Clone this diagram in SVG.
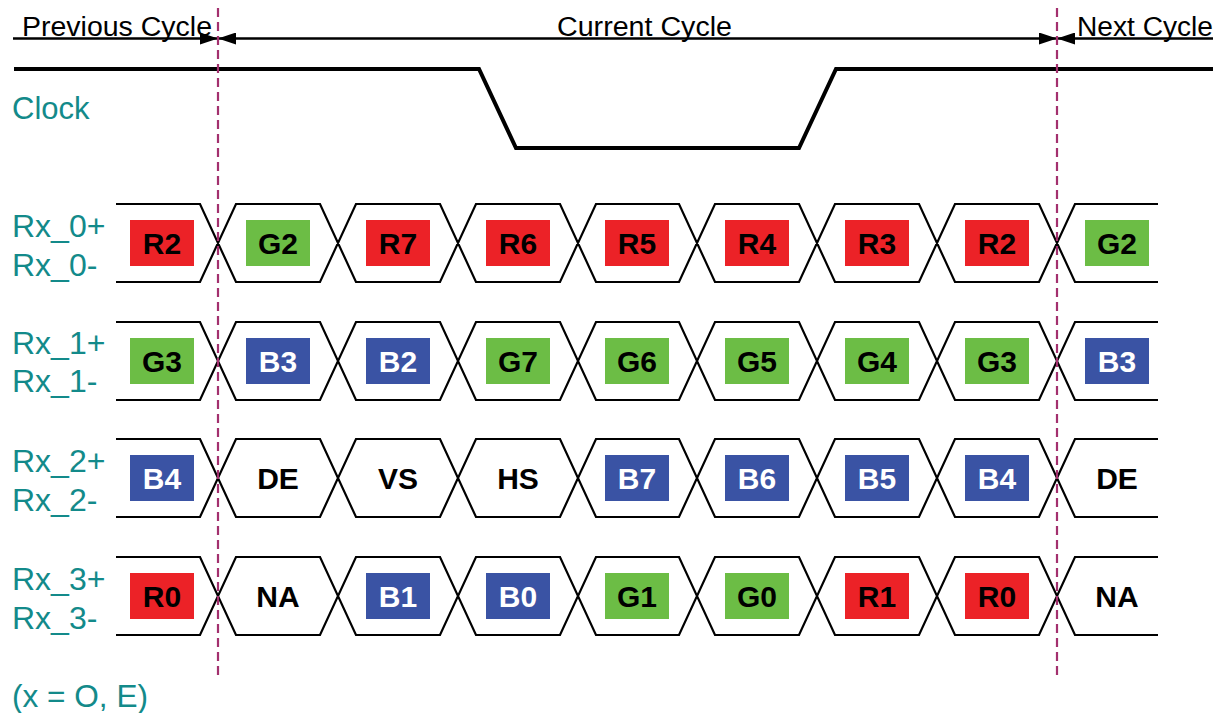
<svg xmlns="http://www.w3.org/2000/svg" width="1218" height="713" viewBox="0 0 1218 713">
<style>
.hdr{font-family:"Liberation Sans",Arial,sans-serif;font-size:27px;fill:#000}
.lbl{font-family:"Liberation Sans",Arial,sans-serif;font-size:31px;fill:#138a8a}
.rx{font-size:32px}
.bx{font-family:"Liberation Sans",Arial,sans-serif;font-size:30px;font-weight:bold;text-anchor:middle}
.k{fill:#000}.w{fill:#fff}
.r{fill:#ec2227}.g{fill:#6cbd45}.b{fill:#3a53a4}
.lane{fill:none;stroke:#000;stroke-width:2.2}
.clk{fill:none;stroke:#000;stroke-width:4}
.dash{stroke:#a3306e;stroke-width:2.2;stroke-dasharray:9 5}
</style>
<defs>
<marker id="ah" viewBox="0 0 10 10" refX="10" refY="5" markerWidth="18" markerHeight="12" markerUnits="userSpaceOnUse" orient="auto" preserveAspectRatio="none"><path d="M0,0 L10,5 L0,10 z" fill="#000"/></marker>
</defs>
<rect width="1218" height="713" fill="#fff"/>
<g id="header">
<text class="hdr" x="22" y="36" textLength="190" lengthAdjust="spacingAndGlyphs">Previous Cycle</text>
<text class="hdr" x="557" y="36" textLength="175" lengthAdjust="spacingAndGlyphs">Current Cycle</text>
<text class="hdr" x="1077" y="36" textLength="136" lengthAdjust="spacingAndGlyphs">Next Cycle</text>
</g>
<g id="connectors">
<line x1="13" y1="38.5" x2="218" y2="38.5" stroke="#000" stroke-width="2.5" marker-end="url(#ah)"/>
<line x1="640" y1="38.5" x2="218" y2="38.5" stroke="#000" stroke-width="2.5" marker-end="url(#ah)"/>
<line x1="640" y1="38.5" x2="1057" y2="38.5" stroke="#000" stroke-width="2.5" marker-end="url(#ah)"/>
<line x1="1213" y1="38.5" x2="1057" y2="38.5" stroke="#000" stroke-width="2.5" marker-end="url(#ah)"/>
</g>
<g id="clock">
<polyline class="clk" points="14,69 479,69 516,148 799,148 836,69 1213,69"/>
<text class="lbl" x="12" y="119">Clock</text>
</g>
<g id="lanes">
<g id="lane0">
<path class="lane" d="M116,204 H200 L236,282 H320 L356,204 H440 L476,282 H560 L596,204 H679 L715,282 H799 L835,204 H919 L955,282 H1039 L1075,204 H1158 M116,282 H200 L236,204 H320 L356,282 H440 L476,204 H560 L596,282 H679 L715,204 H799 L835,282 H919 L955,204 H1039 L1075,282 H1158"/>
<text class="lbl rx" x="12" y="237">Rx_0+</text><text class="lbl rx" x="12" y="276">Rx_0-</text>
</g>
<g id="lane1" transform="translate(0,118)">
<path class="lane" d="M116,204 H200 L236,282 H320 L356,204 H440 L476,282 H560 L596,204 H679 L715,282 H799 L835,204 H919 L955,282 H1039 L1075,204 H1158 M116,282 H200 L236,204 H320 L356,282 H440 L476,204 H560 L596,282 H679 L715,204 H799 L835,282 H919 L955,204 H1039 L1075,282 H1158"/>
<text class="lbl rx" x="12" y="236">Rx_1+</text><text class="lbl rx" x="12" y="274">Rx_1-</text>
</g>
<g id="lane2" transform="translate(0,235)">
<path class="lane" d="M116,204 H200 L236,282 H320 L356,204 H440 L476,282 H560 L596,204 H679 L715,282 H799 L835,204 H919 L955,282 H1039 L1075,204 H1158 M116,282 H200 L236,204 H320 L356,282 H440 L476,204 H560 L596,282 H679 L715,204 H799 L835,282 H919 L955,204 H1039 L1075,282 H1158"/>
<text class="lbl rx" x="12" y="237">Rx_2+</text><text class="lbl rx" x="12" y="276">Rx_2-</text>
</g>
<g id="lane3" transform="translate(0,353)">
<path class="lane" d="M116,204 H200 L236,282 H320 L356,204 H440 L476,282 H560 L596,204 H679 L715,282 H799 L835,204 H919 L955,282 H1039 L1075,204 H1158 M116,282 H200 L236,204 H320 L356,282 H440 L476,204 H560 L596,282 H679 L715,204 H799 L835,282 H919 L955,204 H1039 L1075,282 H1158"/>
<text class="lbl rx" x="12" y="237">Rx_3+</text><text class="lbl rx" x="12" y="276">Rx_3-</text>
</g>
</g>
<g id="row0">
<g id="r0c0"><rect class="r" x="130" y="220" width="64" height="46"/><text class="bx k" x="162" y="254">R2</text></g>
<g id="r0c1"><rect class="g" x="246" y="220" width="64" height="46"/><text class="bx k" x="278" y="254">G2</text></g>
<g id="r0c2"><rect class="r" x="366" y="220" width="64" height="46"/><text class="bx k" x="398" y="254">R7</text></g>
<g id="r0c3"><rect class="r" x="486" y="220" width="64" height="46"/><text class="bx k" x="518" y="254">R6</text></g>
<g id="r0c4"><rect class="r" x="605" y="220" width="64" height="46"/><text class="bx k" x="637" y="254">R5</text></g>
<g id="r0c5"><rect class="r" x="725" y="220" width="64" height="46"/><text class="bx k" x="757" y="254">R4</text></g>
<g id="r0c6"><rect class="r" x="845" y="220" width="64" height="46"/><text class="bx k" x="877" y="254">R3</text></g>
<g id="r0c7"><rect class="r" x="965" y="220" width="64" height="46"/><text class="bx k" x="997" y="254">R2</text></g>
<g id="r0c8"><rect class="g" x="1085" y="220" width="64" height="46"/><text class="bx k" x="1117" y="254">G2</text></g>
</g>
<g id="row1" transform="translate(0,118)">
<g id="r1c0"><rect class="g" x="130" y="220" width="64" height="46"/><text class="bx k" x="162" y="254">G3</text></g>
<g id="r1c1"><rect class="b" x="246" y="220" width="64" height="46"/><text class="bx w" x="278" y="254">B3</text></g>
<g id="r1c2"><rect class="b" x="366" y="220" width="64" height="46"/><text class="bx w" x="398" y="254">B2</text></g>
<g id="r1c3"><rect class="g" x="486" y="220" width="64" height="46"/><text class="bx k" x="518" y="254">G7</text></g>
<g id="r1c4"><rect class="g" x="605" y="220" width="64" height="46"/><text class="bx k" x="637" y="254">G6</text></g>
<g id="r1c5"><rect class="g" x="725" y="220" width="64" height="46"/><text class="bx k" x="757" y="254">G5</text></g>
<g id="r1c6"><rect class="g" x="845" y="220" width="64" height="46"/><text class="bx k" x="877" y="254">G4</text></g>
<g id="r1c7"><rect class="g" x="965" y="220" width="64" height="46"/><text class="bx k" x="997" y="254">G3</text></g>
<g id="r1c8"><rect class="b" x="1085" y="220" width="64" height="46"/><text class="bx w" x="1117" y="254">B3</text></g>
</g>
<g id="row2" transform="translate(0,235)">
<g id="r2c0"><rect class="b" x="130" y="220" width="64" height="46"/><text class="bx w" x="162" y="254">B4</text></g>
<g id="r2c1"><text class="bx k" x="278" y="254">DE</text></g>
<g id="r2c2"><text class="bx k" x="398" y="254">VS</text></g>
<g id="r2c3"><text class="bx k" x="518" y="254">HS</text></g>
<g id="r2c4"><rect class="b" x="605" y="220" width="64" height="46"/><text class="bx w" x="637" y="254">B7</text></g>
<g id="r2c5"><rect class="b" x="725" y="220" width="64" height="46"/><text class="bx w" x="757" y="254">B6</text></g>
<g id="r2c6"><rect class="b" x="845" y="220" width="64" height="46"/><text class="bx w" x="877" y="254">B5</text></g>
<g id="r2c7"><rect class="b" x="965" y="220" width="64" height="46"/><text class="bx w" x="997" y="254">B4</text></g>
<g id="r2c8"><text class="bx k" x="1117" y="254">DE</text></g>
</g>
<g id="row3" transform="translate(0,353)">
<g id="r3c0"><rect class="r" x="130" y="220" width="64" height="46"/><text class="bx k" x="162" y="254">R0</text></g>
<g id="r3c1"><text class="bx k" x="278" y="254">NA</text></g>
<g id="r3c2"><rect class="b" x="366" y="220" width="64" height="46"/><text class="bx w" x="398" y="254">B1</text></g>
<g id="r3c3"><rect class="b" x="486" y="220" width="64" height="46"/><text class="bx w" x="518" y="254">B0</text></g>
<g id="r3c4"><rect class="g" x="605" y="220" width="64" height="46"/><text class="bx k" x="637" y="254">G1</text></g>
<g id="r3c5"><rect class="g" x="725" y="220" width="64" height="46"/><text class="bx k" x="757" y="254">G0</text></g>
<g id="r3c6"><rect class="r" x="845" y="220" width="64" height="46"/><text class="bx k" x="877" y="254">R1</text></g>
<g id="r3c7"><rect class="r" x="965" y="220" width="64" height="46"/><text class="bx k" x="997" y="254">R0</text></g>
<g id="r3c8"><text class="bx k" x="1117" y="254">NA</text></g>
</g>
<g id="markers">
<line class="dash" x1="218" y1="8" x2="218" y2="676"/>
<line class="dash" x1="1057" y1="8" x2="1057" y2="676"/>
</g>
<g id="note">
<text class="lbl" x="12" y="707" textLength="136" lengthAdjust="spacingAndGlyphs">(x = O, E)</text>
</g>
</svg>
